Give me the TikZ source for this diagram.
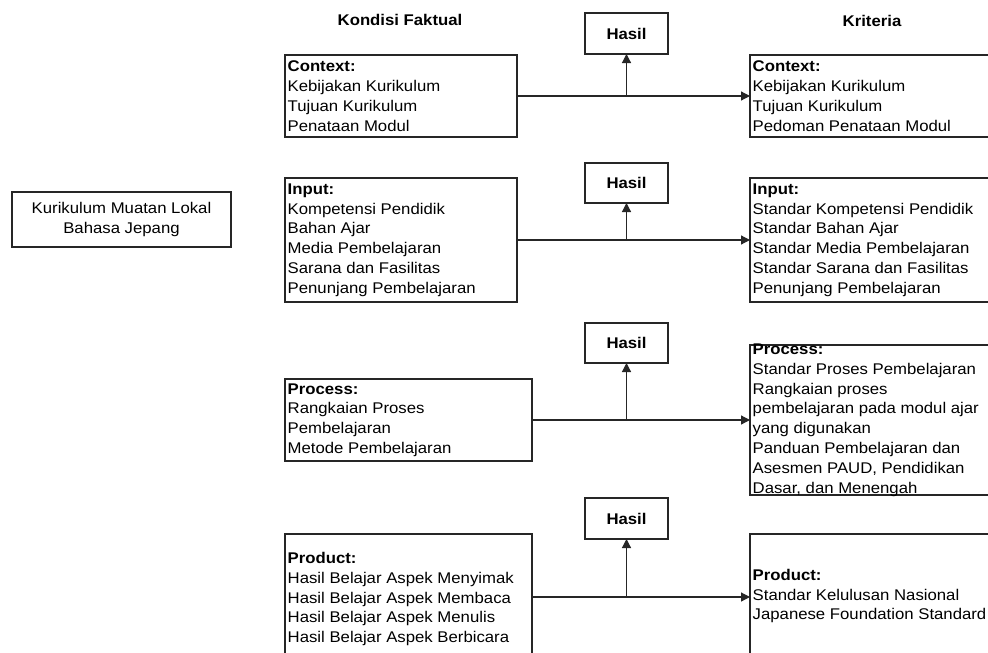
\documentclass[tikz,border=0pt]{standalone}
\usepackage{fontspec}
\setmainfont{Liberation Sans}[FakeStretch=1.08]
\usetikzlibrary{arrows.meta,calc}
\begin{document}
\begin{tikzpicture}[x=1pt,y=-1pt,
  frame/.style={draw=black!85, line width=1.2pt, inner sep=0pt, outer sep=0pt, rectangle},
  txt/.style={align=left, inner sep=0pt, font=\fontsize{15.5pt}{19.8pt}\selectfont},
  ctxt/.style={align=center, inner sep=0pt, font=\fontsize{15.5pt}{19.6pt}\selectfont},
  ttl/.style={inner sep=0pt, font=\fontsize{15.5pt}{19pt}\selectfont\bfseries},
  hasil/.style={frame, minimum width=83pt, anchor=north west, font=\fontsize{15.5pt}{19pt}\selectfont\bfseries},
  conn/.style={draw=black!85, line width=1.2pt, -{Triangle[length=9pt,width=9pt]}}]
\clip (0,0) rectangle (988,653);
\fill[white] (0,0) rectangle (988,653);

% titles
\node[ttl] (t1) at (400,20) {Kondisi Faktual};
\node[ttl] (t2) at (872,21) {Kriteria};

% left box
\node[frame, minimum width=219pt, minimum height=55pt, anchor=north west] (kur) at (12,192) {};
\node[ctxt] (kurt) at (kur.center) {Kurikulum Muatan Lokal\\Bahasa Jepang};

% Hasil boxes
\node[hasil, minimum height=41pt] (h1) at (585,13) {Hasil};
\node[hasil, minimum height=40pt] (h2) at (585,163) {Hasil};
\node[hasil, minimum height=40pt] (h3) at (585,323) {Hasil};
\node[hasil, minimum height=41pt] (h4) at (585,498) {Hasil};

% Context
\node[frame, minimum width=232pt, minimum height=82pt, anchor=north west] (cf) at (285,55) {};
\node[txt, anchor=west] (cft) at ($(cf.west)+(2.5,0)$) {\textbf{Context:}\\Kebijakan Kurikulum\\Tujuan Kurikulum\\Penataan Modul};
\node[frame, minimum width=260pt, minimum height=82pt, anchor=north west] (ck) at (750,55) {};
\node[txt, anchor=west] (ckt) at ($(ck.west)+(2.5,0)$) {\textbf{Context:}\\Kebijakan Kurikulum\\Tujuan Kurikulum\\Pedoman Penataan Modul};

% Input
\node[frame, minimum width=232pt, minimum height=124pt, anchor=north west] (if) at (285,178) {};
\node[txt, anchor=west] (ift) at ($(if.west)+(2.5,0)$) {\textbf{Input:}\\Kompetensi Pendidik\\Bahan Ajar\\Media Pembelajaran\\Sarana dan Fasilitas\\Penunjang Pembelajaran};
\node[frame, minimum width=260pt, minimum height=124pt, anchor=north west] (ik) at (750,178) {};
\node[txt, anchor=west] (ikt) at ($(ik.west)+(2.5,0)$) {\textbf{Input:}\\Standar Kompetensi Pendidik\\Standar Bahan Ajar\\Standar Media Pembelajaran\\Standar Sarana dan Fasilitas\\Penunjang Pembelajaran};

% Process
\node[frame, minimum width=247pt, minimum height=82pt, anchor=north west] (pf) at (285,379) {};
\node[txt, anchor=west] (pft) at ($(pf.west)+(2.5,0)$) {\textbf{Process:}\\Rangkaian Proses\\Pembelajaran\\Metode Pembelajaran};
\node[frame, minimum width=260pt, minimum height=150pt, anchor=north west] (pk) at (750,345) {};
\node[txt, anchor=west] (pkt) at ($(pk.west)+(2.5,0)$) {\textbf{Process:}\\Standar Proses Pembelajaran\\Rangkaian proses\\pembelajaran pada modul ajar\\yang digunakan\\Panduan Pembelajaran dan\\Asesmen PAUD, Pendidikan\\Dasar, dan Menengah};

% Product
\node[frame, minimum width=247pt, minimum height=126pt, anchor=north west] (prf) at (285,534) {};
\node[txt, anchor=west] (prft) at ($(prf.west)+(2.5,2)$) {\textbf{Product:}\\Hasil Belajar Aspek Menyimak\\Hasil Belajar Aspek Membaca\\Hasil Belajar Aspek Menulis\\Hasil Belajar Aspek Berbicara};
\node[frame, minimum width=260pt, minimum height=126pt, anchor=north west] (prk) at (750,534) {};
\node[txt, anchor=west] (prkt) at ($(prk.west)+(2.5,-1)$) {\textbf{Product:}\\Standar Kelulusan Nasional\\Japanese Foundation Standard};

% connectors
\draw[conn] (cf.east) -- (ck.west);
\coordinate (j1) at (h1.south |- cf.east);
\draw[conn] (j1) -- (h1.south);
\draw[conn] (if.east) -- (ik.west);
\coordinate (j2) at (h2.south |- if.east);
\draw[conn] (j2) -- (h2.south);
\draw[conn] (pf.east) -- (pk.west);
\coordinate (j3) at (h3.south |- pf.east);
\draw[conn] (j3) -- (h3.south);
\draw[conn] (prf.east) -- (prk.west);
\coordinate (j4) at (h4.south |- prf.east);
\draw[conn] (j4) -- (h4.south);
\end{tikzpicture}
\end{document}
